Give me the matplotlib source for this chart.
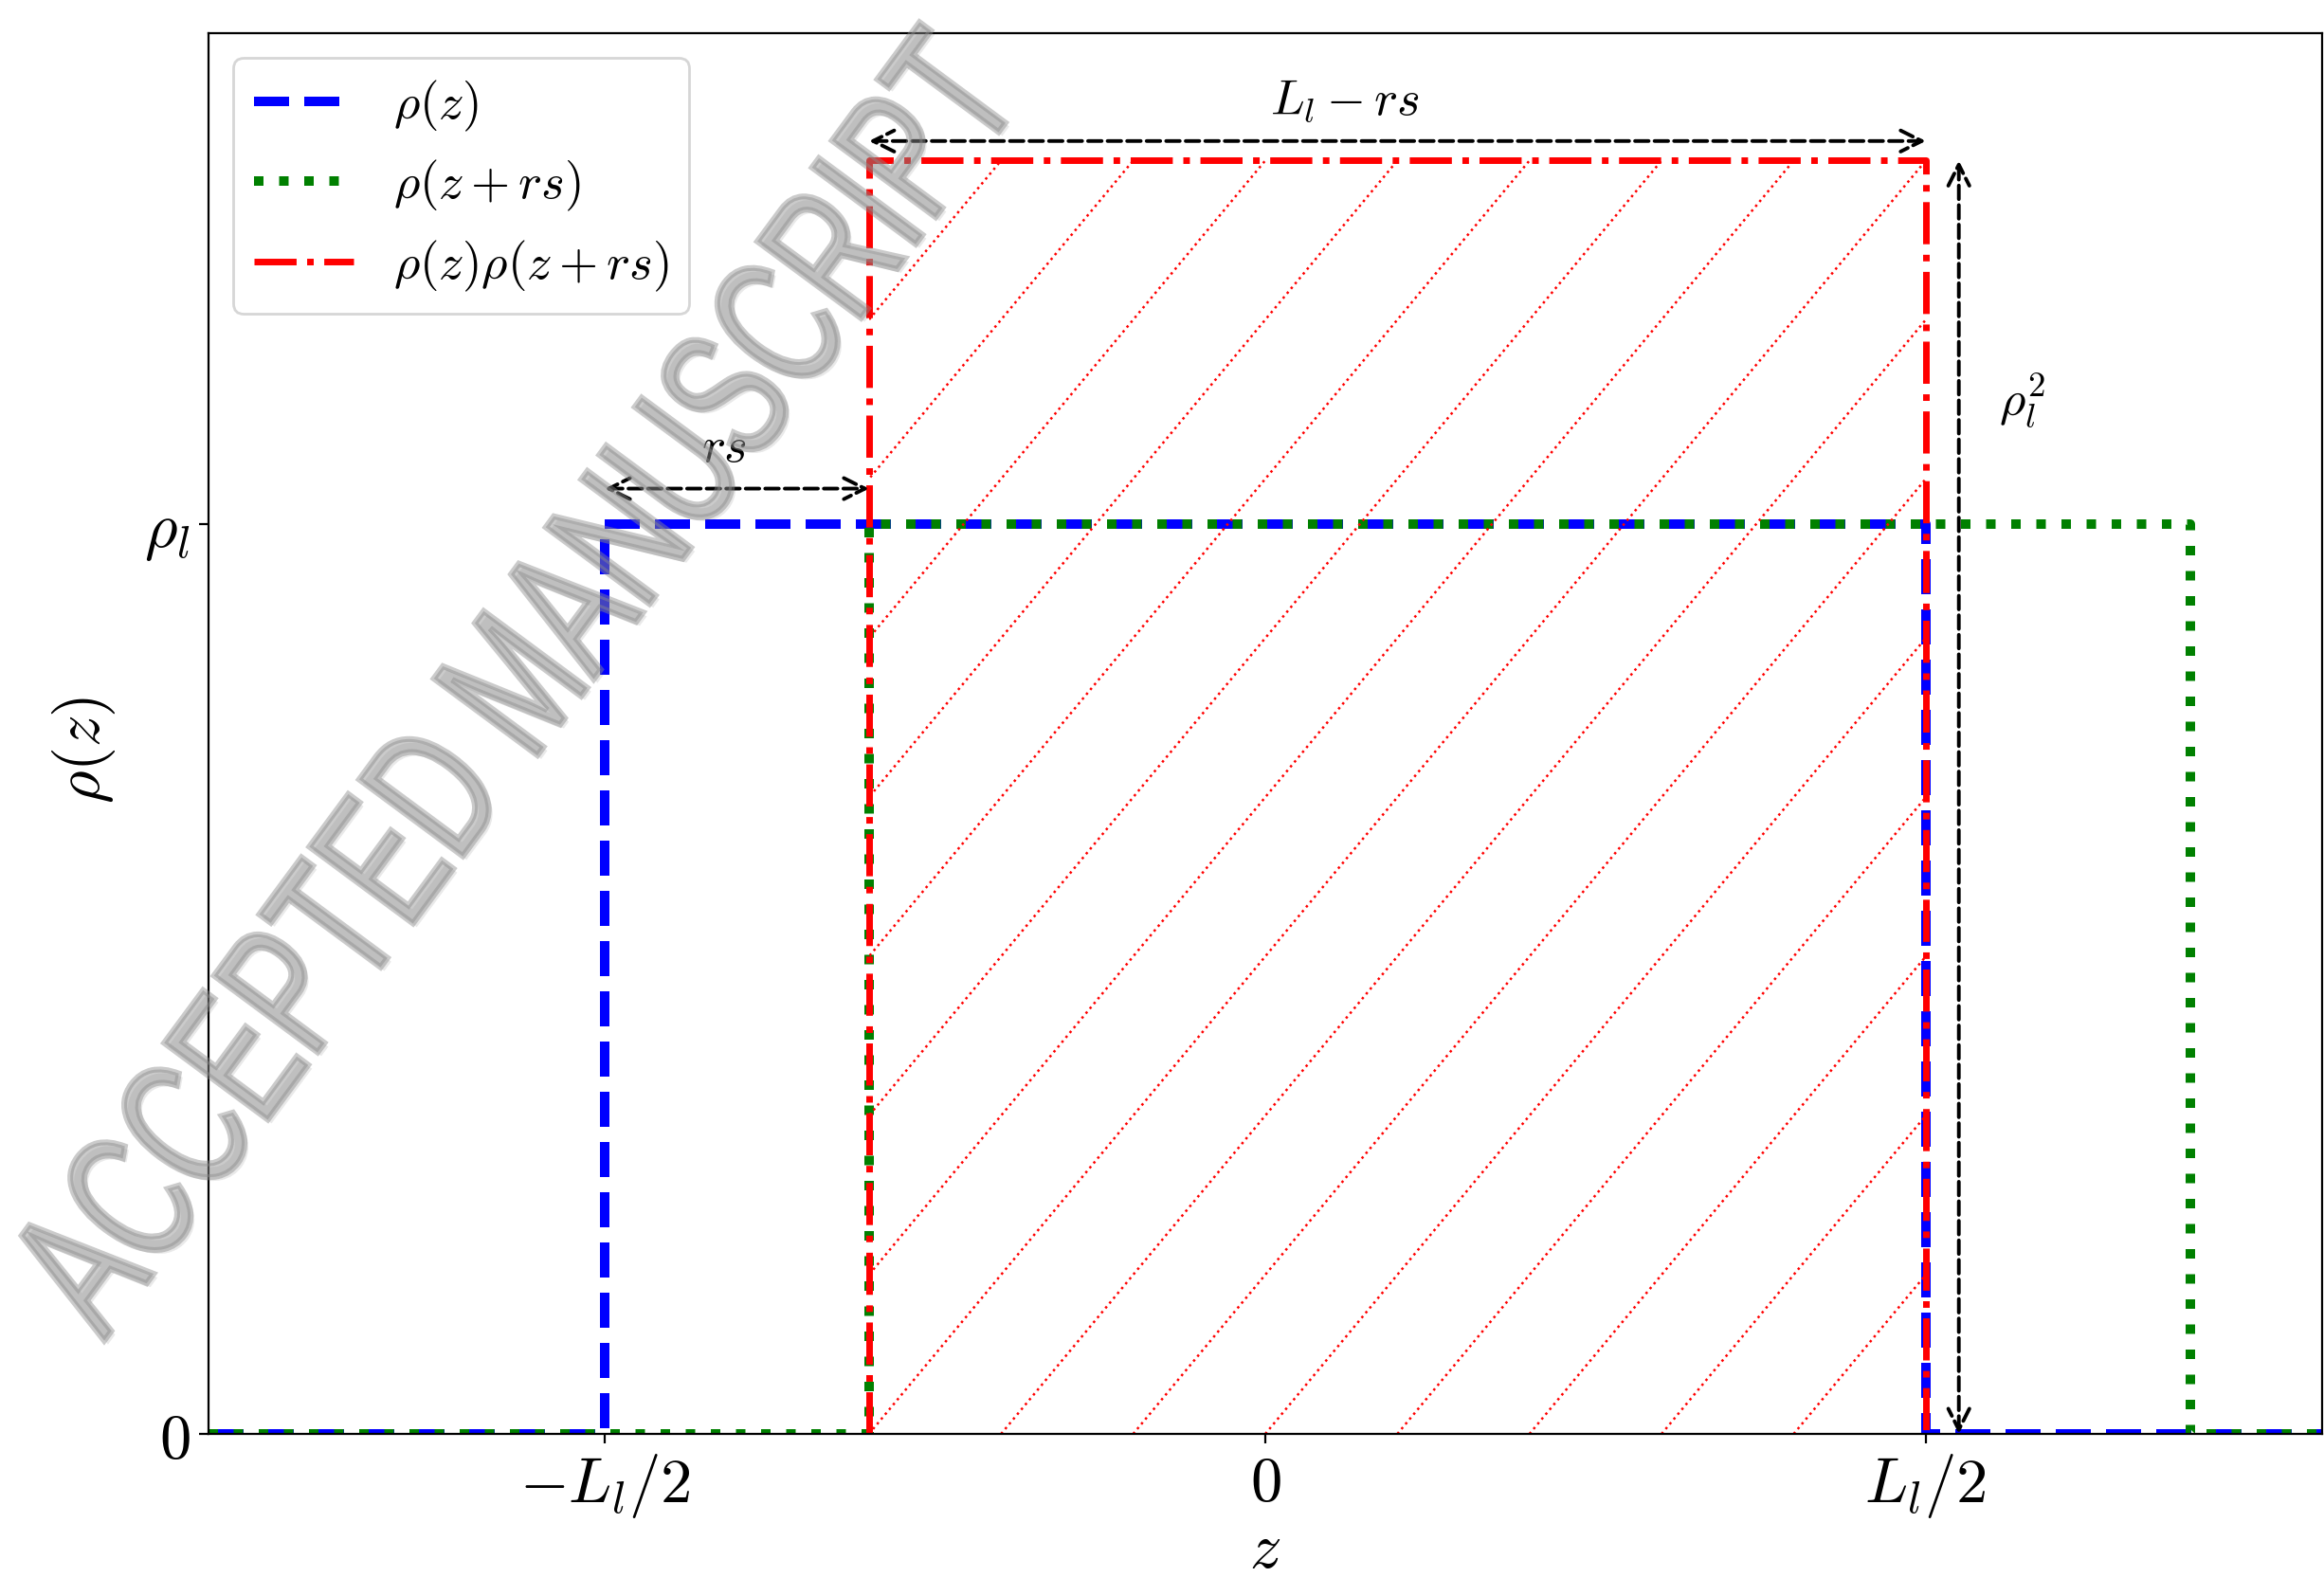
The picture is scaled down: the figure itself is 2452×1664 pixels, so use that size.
import numpy as np
import matplotlib
matplotlib.use('Agg')
import matplotlib.pyplot as plt
from matplotlib.textpath import TextPath
from matplotlib.font_manager import FontProperties
from matplotlib.patches import PathPatch, Rectangle
from matplotlib.transforms import Affine2D, IdentityTransform

plt.rcParams['mathtext.fontset'] = 'cm'
plt.rcParams['font.family'] = ['DejaVu Serif']

# ---------------- data ----------------
rs = 0.2
rho_l = 1.4
rho_l2 = rho_l ** 2

z_rho = [-0.8, -0.5, -0.5, 0.5, 0.5, 0.8]
y_rho = [0, 0, rho_l, rho_l, 0, 0]

z_shift = [-0.8, -0.3, -0.3, 0.7, 0.7, 0.8]
y_shift = [0, 0, rho_l, rho_l, 0, 0]

z_prod = [-0.3, -0.3, 0.5, 0.5]
y_prod = [0, rho_l2, rho_l2, 0]

hatch_starts = [-1.0, -0.9, -0.8, -0.7, -0.6, -0.5, -0.4, -0.3,
                -0.2, -0.1, 0.0, 0.1, 0.2, 0.3, 0.4]
hatch_run = 0.8  # horizontal extent of each hatch line over full height

xtick_pos = [-0.5, 0.0, 0.5]
xtick_lab = [r'$-L_l/2$', r'$0$', r'$L_l/2$']
ytick_pos = [0, rho_l]
ytick_lab = [r'$0$', r'$\rho_l$']

# ---------------- figure ----------------
fig = plt.figure(figsize=(12.26, 8.32), dpi=200)
ax = fig.add_axes([220 / 2452, 151 / 1664, 2230 / 2452, 1478 / 1664])

ax.plot(z_rho, y_rho, color='blue', ls='--', lw=3.6, label=r'$\rho(z)$')
ax.plot(z_shift, y_shift, color='green', ls=':', lw=3.6, label=r'$\rho(z+rs)$')
ax.plot(z_prod, y_prod, color='red', ls='-.', lw=2.5, label=r'$\rho(z)\rho(z+rs)$')

clip_rect = Rectangle((z_prod[0], 0), z_prod[2] - z_prod[0], rho_l2,
                      transform=ax.transData, facecolor='none', edgecolor='none')
ax.add_patch(clip_rect)
for x0 in hatch_starts:
    ln, = ax.plot([x0, x0 + hatch_run], [0, rho_l2], color='red', ls=':', lw=0.9)
    ln.set_clip_path(clip_rect)

ap = dict(arrowstyle='<->', ls='--', color='k', lw=1.4, shrinkA=0, shrinkB=0,
          mutation_scale=20)
ax.annotate('', xy=(-0.3, 1.455), xytext=(-0.5, 1.455), arrowprops=ap)
ax.text(-0.41, 1.48, r'$rs$', ha='center', va='bottom', fontsize=19)
ax.annotate('', xy=(0.5, 1.99), xytext=(-0.3, 1.99), arrowprops=ap)
ax.text(0.06, 2.015, r'$L_l - rs$', ha='center', va='bottom', fontsize=19)
ax.annotate('', xy=(0.525, rho_l2), xytext=(0.525, 0.0), arrowprops=ap)
ax.text(0.555, 1.59, r'$\rho_l^2$', ha='left', va='center', fontsize=19)

ax.set_xlim(-0.8, 0.8)
ax.set_ylim(0, 1.1 * rho_l2)
ax.set_xticks(xtick_pos)
ax.set_xticklabels(xtick_lab, fontsize=24)
ax.set_yticks(ytick_pos)
ax.set_yticklabels(ytick_lab, fontsize=24)
ax.set_xlabel(r'$z$', fontsize=24)
ax.set_ylabel(r'$\rho(z)$', fontsize=24)
ax.xaxis.set_label_coords(0.5, -0.061)
ax.yaxis.set_label_coords(-0.043, 0.488)
ax.legend(loc='upper left', fontsize=19)

# ---------------- watermark ----------------
fp = FontProperties(family='Liberation Sans')
tp = TextPath((0, 0), 'ACCEPTED MANUSCRIPT', size=1, prop=fp)
bb = tp.get_extents()
cx, cy = (bb.x0 + bb.x1) / 2, (bb.y0 + bb.y1) / 2
sx = 1630 / bb.width
sy = 140 / bb.height
tr = (Affine2D().translate(-cx, -cy).scale(sx, sy)
      .rotate_deg(53.5).translate(540, 945))
wpath = tr.transform_path(tp)
wcol = (0.55, 0.55, 0.55, 0.45)
shadow = PathPatch(Affine2D().translate(4, -4).transform_path(wpath),
                   transform=IdentityTransform(), facecolor=(0.3, 0.3, 0.3, 0.12),
                   edgecolor='none', zorder=9)
fig.add_artist(shadow)
wm = PathPatch(wpath, transform=IdentityTransform(), facecolor=wcol,
               edgecolor=wcol, lw=2.2, zorder=10)
fig.add_artist(wm)

fig.savefig('out.png', dpi=200)
